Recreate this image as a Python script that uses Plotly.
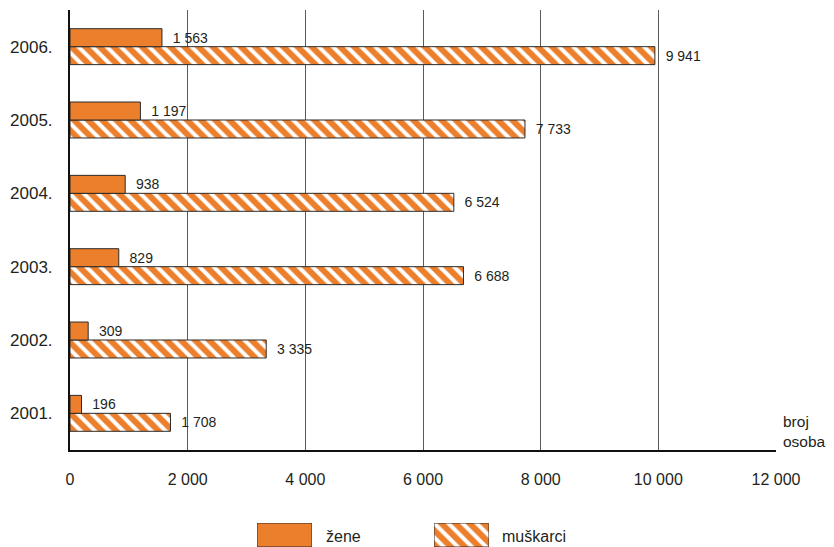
import plotly.graph_objects as go

years = ["2001.", "2002.", "2003.", "2004.", "2005.", "2006."]
zene = [196, 309, 829, 938, 1197, 1563]
muskarci = [1708, 3335, 6688, 6524, 7733, 9941]
x_ticks = [0, 2000, 4000, 6000, 8000, 10000, 12000]
legend_labels = ["žene", "muškarci"]

ORANGE = "#EC7F2C"
EDGE = "#2b2b2b"
TXT = "#231F20"
FONT = "Liberation Sans, Arial, sans-serif"
HATCH = dict(shape="\\", fgcolor="white", bgcolor=ORANGE, size=10, solidity=0.4, fillmode="replace")

fig = go.Figure()

fig.add_trace(go.Bar(
    y=years, x=muskarci, orientation="h", name=legend_labels[1],
    marker=dict(color=ORANGE, line=dict(color=EDGE, width=1), pattern=HATCH),
    texttemplate="\u00a0\u00a0%{x:,}", textposition="outside",
    textfont=dict(size=14, color=TXT, family=FONT), cliponaxis=False,
    showlegend=False,
))
fig.add_trace(go.Bar(
    y=years, x=zene, orientation="h", name=legend_labels[0],
    marker=dict(color=ORANGE, line=dict(color=EDGE, width=1)),
    texttemplate="\u00a0\u00a0%{x:,}", textposition="outside",
    textfont=dict(size=14, color=TXT, family=FONT), cliponaxis=False,
    showlegend=False,
))

# legend swatches drawn as bars on small inset axes
fig.add_trace(go.Bar(x=[1], y=[0], orientation="h", width=1, xaxis="x2", yaxis="y2",
                     marker=dict(color=ORANGE, line=dict(color=EDGE, width=1)),
                     showlegend=False, hoverinfo="skip"))
fig.add_trace(go.Bar(x=[1], y=[0], orientation="h", width=1, xaxis="x3", yaxis="y3",
                     marker=dict(color=ORANGE, line=dict(color=EDGE, width=1), pattern=HATCH),
                     showlegend=False, hoverinfo="skip"))

# page body has an 8px margin; work in window pixel coordinates
OFF = 8
W, H = 834 - OFF, 547 - OFF
L_AX, R_AX, T_AX, B_AX = 70, 776, 10, 450
ml, mr, mt, mb = L_AX - OFF, (834 - R_AX), T_AX - OFF, 0
pw = W - ml - mr
ph = H - mt - mb


def px_x(x):
    return (x - OFF - ml) / pw


def px_y(y):
    return (H - mb - (y - OFF)) / ph


hidden = dict(visible=False, fixedrange=True)

fig.update_layout(
    width=W, height=H,
    margin=dict(l=ml, r=mr, t=mt, b=mb),
    paper_bgcolor="white", plot_bgcolor="white",
    separators=", ",
    barmode="group", bargap=0.51, bargroupgap=0,
    font=dict(family=FONT, color=TXT),
    xaxis=dict(range=[0, 12000], tickvals=x_ticks, ticktext=[f"{v:,}".replace(",", " ") for v in x_ticks],
               showgrid=True, gridcolor="#5a5a5a", gridwidth=1, zeroline=False,
               showline=True, linecolor="#111", linewidth=2,
               ticks="", ticklabelstandoff=14, tickfont=dict(size=16, color=TXT),
               anchor="y"),
    yaxis=dict(domain=[px_y(B_AX), 1], showgrid=False, zeroline=False,
               showline=True, linecolor="#111", linewidth=2,
               ticks="", ticklabelstandoff=12, tickfont=dict(size=17, color=TXT),
               anchor="x"),
    xaxis2=dict(domain=[px_x(257), px_x(312)], range=[0, 1], anchor="y2", **hidden),
    yaxis2=dict(domain=[0, px_y(523)], range=[-0.5, 0.5], anchor="x2", **hidden),
    xaxis3=dict(domain=[px_x(434), px_x(489)], range=[0, 1], anchor="y3", **hidden),
    yaxis3=dict(domain=[0, px_y(523)], range=[-0.5, 0.5], anchor="x3", **hidden),
    annotations=[
        dict(text=legend_labels[0], x=px_x(324), y=px_y(536), xref="paper", yref="paper",
             xanchor="left", yanchor="middle", showarrow=False, font=dict(size=16, color=TXT)),
        dict(text=legend_labels[1], x=px_x(500), y=px_y(536), xref="paper", yref="paper",
             xanchor="left", yanchor="middle", showarrow=False, font=dict(size=16, color=TXT)),
        dict(text="broj<br>osoba", x=px_x(781), y=px_y(431), xref="paper", yref="paper",
             xanchor="left", yanchor="middle", align="left", showarrow=False,
             font=dict(size=15.5, color=TXT)),
    ],
)

fig.write_html("out.html")
